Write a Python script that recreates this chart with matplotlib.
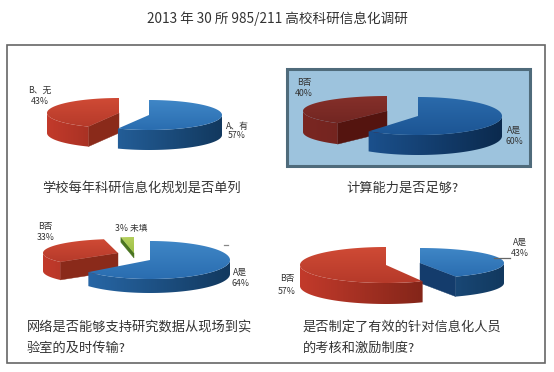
import matplotlib
matplotlib.use('Agg')
import matplotlib.pyplot as plt
import matplotlib.patches as patches
from matplotlib.colors import LinearSegmentedColormap
import numpy as np

plt.rcParams['font.family'] = ['Noto Sans CJK SC', 'DejaVu Sans']

# data
title = '2013 年 30 所 985/211 高校科研信息化调研'
plan_shares = [57, 43]
plan_names = ['A、有', 'B、无']
compute_shares = [60, 40]
compute_names = ['A是', 'B否']
network_shares = [64, 33, 3]
network_names = ['A是', 'B否', '未填']
policy_shares = [43, 57]
policy_names = ['A是', 'B否']

# colours: top light, top dark, side light, side dark, cut face
BLUE = ('#3f86c6', '#2a6db0', '#2a6cae', '#12395f', '#143c6c')
RED = ('#cf4a35', '#b63a2a', '#c23a2b', '#6b1d12', '#8a2a1a')
DEEP_BLUE = ('#2a6aab', '#1c5594', '#1f5a9c', '#0b2a4e', '#0e3460')
MAROON = ('#86302a', '#722622', '#7a2722', '#5c1a16', '#54140f')
GREEN = ('#b4cf5c', '#9cbf45', '#6d9a30', '#4f7a20', '#4a7420')

fig, ax = plt.subplots(figsize=(5.54, 3.72), dpi=100)
fig.patch.set_facecolor('white')
ax.set_position([0, 0, 1, 1])
ax.set_axis_off()


def shaded(xs, ys, c1, c2, horizontal, extent, zorder):
    # gradient clipped to a polygon, no seams between strips
    poly = patches.Polygon(np.column_stack([xs, ys]), closed=True, fc='none', ec='none', zorder=zorder)
    ax.add_patch(poly)
    cmap = LinearSegmentedColormap.from_list('g', [c1, c2])
    grad = np.linspace(0, 1, 64).reshape(1, -1) if horizontal else np.linspace(0, 1, 64).reshape(-1, 1)
    im = ax.imshow(grad, cmap=cmap, aspect='auto', zorder=zorder, extent=extent, origin='upper')
    im.set_clip_path(poly)


def draw_slice(cx, cy, rx, ry, depth, start, end, cols):
    # angles in degrees, clockwise from the top of the pie
    def pt(t):
        r = np.radians(t)
        return cx + rx * np.sin(r), cy - ry * np.cos(r)

    # cut faces that look towards the viewer
    for t, show in ((start, np.sin(np.radians(start)) < -1e-6), (end, np.sin(np.radians(end)) > 1e-6)):
        if show:
            px, py = pt(t)
            ax.fill([cx, px, px, cx], [cy, py, py + depth, cy + depth], color=cols[4], lw=0.3, zorder=3)

    # outer wall
    lo, hi = max(start, 90), min(end, 270)
    if hi > lo:
        ts = np.linspace(lo, hi, 120)
        wx = [pt(t)[0] for t in ts]
        wy = [pt(t)[1] for t in ts]
        xs = wx + wx[::-1]
        ys = wy + [y + depth for y in wy[::-1]]
        shaded(xs, ys, cols[2], cols[3], True, (cx - rx, cx + rx, cy + ry + depth, cy - ry), 4)

    # top surface
    ts = np.linspace(start, end, 120)
    xs = [cx] + [pt(t)[0] for t in ts]
    ys = [cy] + [pt(t)[1] for t in ts]
    shaded(xs, ys, cols[0], cols[1], False, (min(xs), max(xs), max(ys), min(ys)), 5)


def draw_pie(shares, slices):
    angle = 0
    for share, (cx, cy, rx, ry, depth, cols) in zip(shares, slices):
        sweep = share / sum(shares) * 360
        draw_slice(cx, cy, rx, ry, depth, angle, angle + sweep, cols)
        angle += sweep


def label(x, y, txt, size=6.3, color='#333333', weight='normal'):
    ax.text(x, y, txt, ha='center', va='center', fontsize=size, color=color, weight=weight, zorder=8)


# frame and the blue panel behind the second pie
ax.add_patch(patches.Rectangle((7, 45), 538, 318, fc='white', ec='#666666', lw=1.2, zorder=1))
ax.add_patch(patches.Rectangle((287, 69), 243, 97, fc='#9dc3dd', ec='#4f6b7b', lw=2.2, zorder=2))

draw_pie(plan_shares, [(149, 115, 73, 15, 20, BLUE), (119, 113, 72, 15, 20, RED)])
draw_pie(compute_shares, [(418, 116, 84, 19, 20, DEEP_BLUE), (387, 111, 84, 15, 21, MAROON)])
draw_pie(network_shares, [(150, 260, 80, 19, 14, BLUE), (118, 253, 75, 14, 18, RED), (134, 253, 70, 16, 5, GREEN)])
draw_pie(policy_shares, [(420, 263, 84, 15, 20, BLUE), (386, 265, 86, 18, 21, RED)])

# leader line and the stray tick in the lower pies
ax.plot([494, 510], [258, 258], color='#666666', lw=0.9, zorder=6)
ax.plot([224, 228], [245, 245], color='#888888', lw=0.9, zorder=6)

ax.text(277, 19, title, ha='center', va='center', fontsize=9.8, color='#333333')

# slice labels
label(40, 90, plan_names[1]); label(40, 101, f'{plan_shares[1]}%', weight='medium')
label(237, 126, plan_names[0]); label(237, 136, f'{plan_shares[0]}%', weight='medium')
label(304, 82, compute_names[1]); label(304, 94, f'{compute_shares[1]}%', weight='medium')
label(514, 130, compute_names[0]); label(514, 142, f'{compute_shares[0]}%', weight='medium')
label(45, 227, network_names[1]); label(46, 238, f'{network_shares[1]}%', weight='medium')
label(131, 229, f'{network_shares[2]}% {network_names[2]}')
label(240, 272, network_names[0]); label(241, 283, f'{network_shares[0]}%', weight='medium')
label(520, 242, policy_names[0]); label(520, 254, f'{policy_shares[0]}%', weight='medium')
label(287, 279, policy_names[1]); label(287, 291, f'{policy_shares[1]}%', weight='medium')

# questions under the pies
q = dict(fontsize=9.5, color='#333333', va='center', zorder=8)
ax.text(142, 188, '学校每年科研信息化规划是否单列', ha='center', **q)
ax.text(402, 188, '计算能力是否足够?', ha='center', **q)
ax.text(27, 327, '网络是否能够支持研究数据从现场到实', ha='left', **q)
ax.text(27, 348, '验室的及时传输?', ha='left', **q)
ax.text(303, 327, '是否制定了有效的针对信息化人员', ha='left', **q)
ax.text(303, 348, '的考核和激励制度?', ha='left', **q)

ax.set_xlim(0, 554)
ax.set_ylim(372, 0)

plt.savefig('out.png', dpi=100)
